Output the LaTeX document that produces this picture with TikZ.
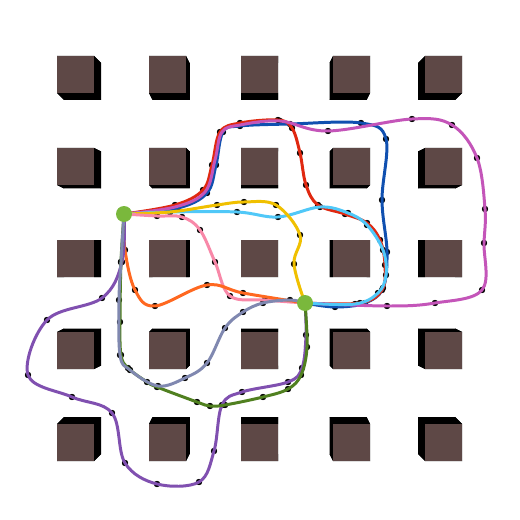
\documentclass[tikz,border=0pt]{standalone}
\usetikzlibrary{calc}
\pgfdeclarelayer{background}
\pgfdeclarelayer{front}
\pgfsetlayers{background,main,front}
\definecolor{pillar}{RGB}{94,72,70}
\definecolor{hubgreen}{RGB}{122,184,60}
\definecolor{rmagenta}{RGB}{196,85,185}
\definecolor{rred}{RGB}{224,40,16}
\definecolor{rblue}{RGB}{16,80,176}
\definecolor{rcyan}{RGB}{80,200,248}
\definecolor{ryellow}{RGB}{240,192,0}
\definecolor{rpink}{RGB}{248,136,168}
\definecolor{rorange}{RGB}{255,104,32}
\definecolor{rviolet}{RGB}{128,80,176}
\definecolor{rolive}{RGB}{80,128,32}
\definecolor{rslate}{RGB}{128,136,176}
% one route: waypoint dots underneath, smooth line on top
\newcommand{\route}[2]{%
  \begin{pgfonlayer}{background}
    \path plot[only marks,mark=*,mark size=1.6pt] coordinates {#2};
  \end{pgfonlayer}
  \draw[route,#1] plot[smooth,tension=0.6] coordinates {#2};}

\begin{document}
\begin{tikzpicture}[x=0.02cm,y=-0.02cm,
  route/.style={line width=1.7pt,line cap=round,line join=round},
  hub/.style={circle,fill=hubgreen,inner sep=0pt,minimum size=0.32cm}]
\useasboundingbox (0,0) rectangle (520,520);

% pillars, sides leaning to the centre
\begin{pgfonlayer}{background}
\fill[white] (0,0) rectangle (520,520);
\foreach \i in {0,...,4}
  \foreach \j in {0,...,4} {
    \pgfmathsetmacro\cx{75.5+92*\i}
    \pgfmathsetmacro\cy{74.5+92*\j}
    \pgfmathsetmacro\dx{(2-\i)*3.5}
    \pgfmathsetmacro\dy{(2-\j)*3.5}
    \begin{scope}[shift={(\cx,\cy)}]
      \fill[black] (-18.5,-18.5) -- (18.5,-18.5) -- ++(\dx,\dy) -- ++(-37,0) -- cycle;
      \fill[black] (18.5,-18.5) -- (18.5,18.5) -- ++(\dx,\dy) -- ++(0,-37) -- cycle;
      \fill[black] (18.5,18.5) -- (-18.5,18.5) -- ++(\dx,\dy) -- ++(37,0) -- cycle;
      \fill[black] (-18.5,18.5) -- (-18.5,-18.5) -- ++(\dx,\dy) -- ++(0,37) -- cycle;
      \fill[black] ($(-18.5,-18.5)+(\dx,\dy)$) rectangle ($(18.5,18.5)+(\dx,\dy)$);
      \fill[pillar] (-18.5,-18.5) rectangle (18.5,18.5);
    \end{scope}
  }
\end{pgfonlayer}

% the two end points
\begin{pgfonlayer}{front}
\node[hub] (A) at (124,214) {};
\node[hub] (B) at (305,303) {};
\end{pgfonlayer}

\route{rblue}{(A.center) (178,208) (207,193) (216,165) (223,132) (240,126) (290,124) (361,123) (386,139) (382,200) (387,252) (383,288) (365,303) (335,307) (B.center)}
\route{rred}{(A.center) (175,205) (203,190) (212,165) (220,132) (240,123) (278,120) (292,128) (300,153) (306,185) (318,205) (345,214) (367,223) (380,240) (385,265) (382,290) (360,303) (B.center)}
\route{rmagenta}{(A.center) (175,207) (205,192) (215,160) (222,132) (240,125) (280,121) (328,131) (412,119) (452,125) (477,158) (485,209) (484,243) (482,290) (435,303) (387,306) (B.center)}
\route{rcyan}{(A.center) (170,212) (237,212) (278,217) (320,207) (348,213) (367,225) (383,250) (386,275) (378,293) (355,304) (B.center)}
\route{ryellow}{(A.center) (170,212) (217,205) (244,202) (276,205) (300,235) (294,264) (B.center)}
\route{rpink}{(A.center) (157,216) (182,217) (200,230) (215,262) (230,296) (265,300) (B.center)}
\route{rorange}{(A.center) (125,250) (135,290) (155,306) (207,285) (243,293) (B.center)}
\route{rviolet}{(A.center) (122,262) (102,298) (47,320) (28,375) (72,397) (112,413) (125,463) (157,484) (199,482) (214,451) (222,405) (242,392) (288,382) (302,368) (306,335) (B.center)}
\route{rolive}{(A.center) (121,262) (120,322) (121,355) (128,368) (147,382) (157,387) (197,402) (210,406) (225,405) (263,397) (288,389) (301,375) (307,347) (B.center)}
\route{rslate}{(A.center) (121,262) (119,300) (120,355) (130,370) (158,386) (185,378) (207,363) (225,328) (243,312) (263,303) (290,300) (B.center)}
\end{tikzpicture}
\end{document}
